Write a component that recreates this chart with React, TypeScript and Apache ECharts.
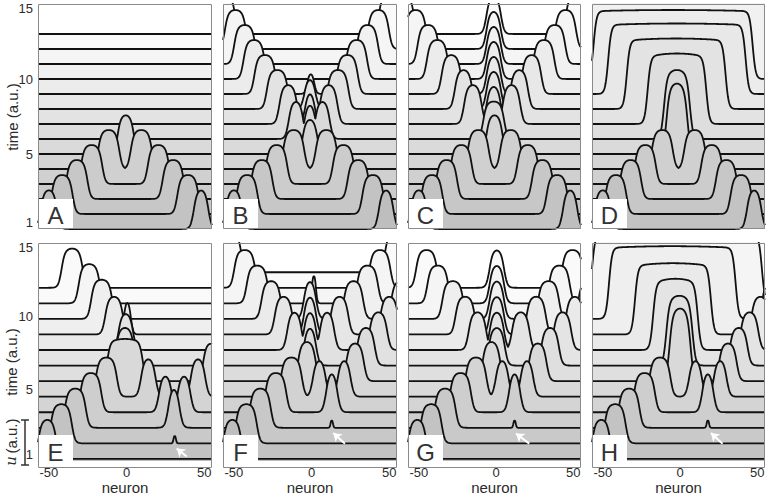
import React, { useEffect, useRef } from "react";
import * as echarts from "echarts";

// ---------- data ----------
const NEURON_MIN = -57;
const NEURON_MAX = 55;
const X_TICKS = [-50, 0, 50];
const Y_TICK_VALUES = [0.45, 4.95, 9.95, 14.7];
const Y_TICK_LABELS = ["1", "5", "10", "15"];

// baselines (time offset) of each trace, front (0) to back
const TOP_BASELINES = [0, 1, 2, 3, 4, 5, 6, 7, 8, 9, 10, 11, 12, 13];
const BOTTOM_BASELINES = [0.15, 1.22, 2.29, 3.36, 4.43, 5.5, 6.57, 7.64, 8.71, 9.78, 10.85, 11.92, 12.99];

// pulses: [trace index, centre (neuron), half width, height]
type Pulse = [number, number, number, number];

const WAVE_TOP: Pulse[] = [
  [0, -50, 5.5, 2.6], [0, 48, 5, 2.6],
  [1, -41.5, 7, 2.6], [1, 39.5, 7, 2.6],
  [2, -32, 7, 2.6], [2, 30, 7, 2.6],
  [3, -22.5, 7, 2.6], [3, 20.5, 7, 2.6],
  [4, -11.5, 7, 2.6], [4, 9.5, 7, 2.6],
];

const PULSES_A: Pulse[] = [...WAVE_TOP, [5, -0.5, 5.5, 2.6]];

const PULSES_B: Pulse[] = [
  ...WAVE_TOP,
  [5, -1, 5, 2.3],
  [6, -1, 4, 2.3], [6, -10, 5, 2.5], [6, 7, 5, 2.5],
  [7, -1, 3.5, 2.1], [7, -15, 6, 2.6], [7, 11, 6, 2.6],
  [8, -1, 4, 2.0], [8, -22, 7, 2.6], [8, 17, 7, 2.6],
  [9, -0.5, 2.5, 1.4], [9, -30, 7, 2.6], [9, 23, 7, 2.6],
  [10, -37, 7, 2.6], [10, 29, 7, 2.6],
  [11, -43, 7, 2.6], [11, 36, 7, 2.6],
  [12, -49, 7, 2.6], [12, 43, 7, 2.6],
  [13, -56, 7, 2.6], [13, 50, 7, 2.6],
];

const PULSES_C: Pulse[] = [
  ...WAVE_TOP,
  [5, -1, 5.5, 2.6],
  [6, -1.5, 7, 2.5],
  [7, -1.5, 5, 2.5], [7, -15, 6, 2.6], [7, 10, 6, 2.6],
  [8, -1.5, 5, 2.5], [8, -21, 6, 2.6], [8, 15, 6, 2.6],
  [9, -1.5, 5, 2.5], [9, -29, 6.5, 2.6], [9, 23, 6.5, 2.6],
  [10, -1.5, 5, 2.5], [10, -38, 7, 2.6], [10, 31, 7, 2.6],
  [11, -1.5, 5, 2.5], [11, -44, 7, 2.6], [11, 38, 7, 2.6],
  [12, -1.5, 5, 2.5], [12, -52, 7, 2.6], [12, 45, 7, 2.6],
  [13, -1.5, 5, 2.5], [13, -60, 7, 2.6], [13, 52, 7, 2.6],
];

const PULSES_D: Pulse[] = [
  ...WAVE_TOP,
  [5, -2, 7, 4.7], [6, -2, 8.5, 4.6], [7, -2, 19, 4.7], [8, -2.5, 32, 4.7],
  [9, -2, 44.5, 4.7], [10, -4.5, 51.5, 4.6], [11, -1, 80, 4.6], [12, -1, 80, 4.6], [13, -1, 80, 4.6],
];

const WAVE_BOTTOM: Pulse[] = [
  [0, -51, 6, 2.7], [1, -42, 7, 2.7], [2, -33, 7, 2.7], [3, -23, 7, 2.7], [4, -13, 7, 2.7],
];

const PULSES_E: Pulse[] = [
  ...WAVE_BOTTOM,
  [1, 31, 0.9, 0.55], [2, 30.5, 4, 2.7], [3, 25, 4.5, 2.5], [3, 37, 4.5, 2.5], [4, 14, 5, 2.6], [4, 46, 5, 2.6],
  [5, -1, 11.5, 2.9], [5, 54, 5, 2.6],
  [6, -1, 6, 2.6], [7, -0.5, 5, 2.5], [8, -8, 6, 2.6], [8, 0.5, 2.5, 2.3],
  [9, -16, 7, 2.7], [10, -24, 7, 2.7], [11, -35, 7, 2.7],
];

const PULSES_F: Pulse[] = [
  ...WAVE_BOTTOM,
  [2, 13, 0.9, 0.55], [3, 13, 4, 2.7], [4, 5, 4.5, 2.5], [4, 21, 4.5, 2.5],
  [5, -3, 6, 2.7], [5, 28, 6, 2.6],
  [6, -1, 4.3, 2.6], [6, 35, 6, 2.6],
  [7, -1, 4.3, 2.6], [7, -11, 5, 2.6], [7, 10, 5, 2.6], [7, 43, 6, 2.6],
  [8, -1, 4.3, 2.6], [8, -18, 6, 2.6], [8, 18, 6, 2.6], [8, 50, 6, 2.6],
  [9, -1, 4.3, 2.6], [9, -26, 6.5, 2.6], [9, 27, 6.5, 2.6], [9, 57, 6, 2.6],
  [10, 1.5, 1.5, 2.0], [10, -35, 7, 2.6], [10, 36, 7, 2.6],
  [11, -43, 7, 2.6], [11, 44, 7, 2.6],
  [12, -52, 7, 2.7], [12, 54, 7, 2.7],
];

const PULSES_G: Pulse[] = [
  ...WAVE_BOTTOM,
  [2, 12, 0.9, 0.55], [3, 12, 4, 2.7], [4, 4, 4.5, 2.5], [4, 20, 4.5, 2.5],
  [5, -3, 6, 2.7], [5, 27, 6, 2.6],
  [6, 0.5, 5.5, 2.6], [6, 35, 6, 2.6],
  [7, 0.5, 5, 2.6], [7, -12, 6, 2.6], [7, 16, 6, 2.6], [7, 43, 6, 2.6],
  [8, 0.5, 5, 2.6], [8, -20, 6.5, 2.6], [8, 26, 6.5, 2.6], [8, 51, 6, 2.6],
  [9, 0.5, 5, 2.6], [9, -28, 7, 2.6], [9, 34, 7, 2.6], [9, 59, 6, 2.6],
  [10, 0.5, 5, 2.6], [10, -37.7, 7, 2.6], [10, 41, 7, 2.6],
  [11, 0.5, 5, 2.6], [11, -45, 7, 2.6], [11, 49.5, 7, 2.6],
];

const PULSES_H: Pulse[] = [
  ...WAVE_BOTTOM,
  [2, 18, 0.9, 0.55], [3, 18, 4, 2.7], [4, 10, 4.5, 2.5], [4, 26, 4.5, 2.5],
  [5, 0, 7, 5.0], [5, 31, 6, 2.6],
  [6, -0.4, 8.6, 4.8], [6, 38, 6, 2.6],
  [7, -3, 14.5, 4.9], [7, 45, 6, 2.6],
  [8, -4.6, 24.6, 4.9], [8, 52, 6, 2.6],
  [9, -5, 41, 5.0], [9, 59, 6, 2.6],
  [10, -2, 55, 4.8], [11, 0, 80, 4.8],
];

// white arrows pointing at the second stimulus: [tail, head] in (neuron, time)
const ARROW_E = [[38.7, 0.31], [32.3, 0.87]];
const ARROW_F = [[21.5, 1.2], [14, 1.93]];
const ARROW_G = [[21.5, 1.2], [12.9, 1.9]];
const ARROW_H = [[27.5, 1.2], [20, 1.93]];

// ---------- layout / style ----------
const COL_LEFT = [38, 223, 408, 592];
const COL_WIDTH = [174, 174, 173, 173];
const ROW_TOP = [4, 243];
const PANEL_H = 225;
const FONT = "'Liberation Sans', Arial, Helvetica, sans-serif";
const TEXT = "#2b2b2b";

const PANELS = [
  { letter: "A", col: 0, row: 0, baselines: TOP_BASELINES, pulses: PULSES_A, arrow: null },
  { letter: "B", col: 1, row: 0, baselines: TOP_BASELINES, pulses: PULSES_B, arrow: null },
  { letter: "C", col: 2, row: 0, baselines: TOP_BASELINES, pulses: PULSES_C, arrow: null },
  { letter: "D", col: 3, row: 0, baselines: TOP_BASELINES, pulses: PULSES_D, arrow: null },
  { letter: "E", col: 0, row: 1, baselines: BOTTOM_BASELINES.slice(0, 12), pulses: PULSES_E, arrow: ARROW_E },
  { letter: "F", col: 1, row: 1, baselines: BOTTOM_BASELINES.slice(0, 13), pulses: PULSES_F, arrow: ARROW_F },
  { letter: "G", col: 2, row: 1, baselines: BOTTOM_BASELINES.slice(0, 12), pulses: PULSES_G, arrow: ARROW_G },
  { letter: "H", col: 3, row: 1, baselines: BOTTOM_BASELINES.slice(0, 12), pulses: PULSES_H, arrow: ARROW_H },
];

const STEPS = 448;

function bump(x: number, c: number, w: number, h: number) {
  const s = Math.min(1.0, w / 3.5);
  const rise = 1 / (1 + Math.exp(-(x - (c - w)) / s));
  const fall = 1 / (1 + Math.exp(-(c + w - x) / s));
  const d = (x - c) / w;
  const k = 0.15 * Math.min(1, 6 / w);
  const dome = 1 - k * Math.min(1, d * d);
  return h * rise * fall * dome;
}

function traceData(base: number, pulses: Pulse[], k: number) {
  const pts: number[][] = [];
  const own = pulses.filter((p) => p[0] === k);
  for (let i = 0; i <= STEPS; i++) {
    const x = NEURON_MIN + (i * (NEURON_MAX - NEURON_MIN)) / STEPS;
    let u = 0;
    for (const [, c, w, h] of own) u = Math.max(u, bump(x, c, w, h));
    pts.push([x, base + u]);
  }
  return pts;
}

function grayFor(k: number, n: number) {
  const g = Math.round(190 + (60 * k) / (n - 1));
  return `rgb(${g},${g},${g})`;
}

export default function App() {
  const ref = useRef<HTMLDivElement>(null);
  useEffect(() => {
    document.body.style.margin = "0";
    const chart = echarts.init(ref.current!, null, { renderer: "svg" });

    const grid = PANELS.map((p) => ({
      left: COL_LEFT[p.col],
      top: ROW_TOP[p.row],
      width: COL_WIDTH[p.col],
      height: PANEL_H,
    }));

    const xAxis = PANELS.map((p, i) => ({
      type: "value",
      gridIndex: i,
      min: NEURON_MIN,
      max: NEURON_MAX,
      axisLine: { show: false },
      axisTick: { show: false },
      splitLine: { show: false },
      axisLabel:
        p.row === 1
          ? { show: true, customValues: X_TICKS, fontSize: 13, color: TEXT, margin: 5, fontFamily: FONT }
          : { show: false },
      name: p.row === 1 ? "neuron" : "",
      nameLocation: "middle",
      nameGap: 13,
      nameTextStyle: { fontSize: 15, color: TEXT, fontFamily: FONT },
    }));

    const yAxis = PANELS.map((p, i) => ({
      type: "value",
      gridIndex: i,
      min: 0,
      max: 15,
      axisLine: { show: false },
      axisTick: { show: false },
      splitLine: { show: false },
      axisLabel:
        p.col === 0
          ? {
              show: true,
              customValues: Y_TICK_VALUES,
              formatter: (v: number) => Y_TICK_LABELS[Y_TICK_VALUES.indexOf(v)] ?? "",
              fontSize: 13,
              color: TEXT,
              margin: 5,
              fontFamily: FONT,
            }
          : { show: false },
    }));

    const series: any[] = [];
    PANELS.forEach((p, i) => {
      const n = p.baselines.length;
      for (let k = n - 1; k >= 0; k--) {
        const s: any = {
          type: "line",
          xAxisIndex: i,
          yAxisIndex: i,
          data: traceData(p.baselines[k], p.pulses, k),
          showSymbol: false,
          symbol: "none",
          silent: true,
          lineStyle: { color: "#111", width: 1.8, join: "round" },
          areaStyle: { color: grayFor(k, n), opacity: 1, origin: "start" },
          z: 10 + (n - 1 - k), // front traces above back ones (fill + line together)
        };
        if (k === 0 && p.arrow) {
          s.markLine = {
            silent: true,
            z: 60,
            symbol: ["none", "arrow"],
            symbolSize: 8,
            label: { show: false },
            lineStyle: { color: "#fff", width: 2, type: "solid" },
            data: [[{ coord: p.arrow[0] }, { coord: p.arrow[1] }]],
          };
        }
        series.push(s);
      }
    });

    const graphic: any[] = [];
    PANELS.forEach((p) => {
      const L = COL_LEFT[p.col];
      const T = ROW_TOP[p.row];
      const W = COL_WIDTH[p.col];
      const boxH = p.row === 0 ? 30 : 33;
      graphic.push({
        type: "rect",
        z: 100,
        shape: { x: L, y: T + PANEL_H - boxH, width: 35, height: boxH },
        style: { fill: "#fff" },
      });
      graphic.push({
        type: "text",
        z: 101,
        x: L + 17.5,
        y: T + PANEL_H - boxH / 2 + 1,
        style: { text: p.letter, fontSize: 24, fontFamily: FONT, fill: "#333", align: "center", verticalAlign: "middle" },
      });
      graphic.push({
        type: "rect",
        z: 102,
        shape: { x: L + 0.5, y: T + 0.5, width: W - 1, height: PANEL_H - 1 },
        style: { fill: "none", stroke: "#8a8a8a", lineWidth: 1 },
      });
    });
    const titleStyle = { fontSize: 15, fontFamily: FONT, fill: TEXT, align: "center", verticalAlign: "middle" };
    graphic.push({ type: "text", z: 101, x: 12, y: 117, rotation: Math.PI / 2, style: { ...titleStyle, text: "time (a.u.)" } });
    graphic.push({ type: "text", z: 101, x: 11, y: 362, rotation: Math.PI / 2, style: { ...titleStyle, text: "time (a.u.)" } });
    graphic.push({
      type: "text",
      z: 101,
      x: 11,
      y: 461,
      rotation: Math.PI / 2,
      style: { ...titleStyle, text: "u", fontStyle: "italic", fontFamily: "'DejaVu Serif', serif" },
    });
    graphic.push({ type: "text", z: 101, x: 11, y: 436, rotation: Math.PI / 2, style: { ...titleStyle, text: "(a.u.)" } });
    graphic.push({ type: "line", z: 101, shape: { x1: 25, y1: 420, x2: 25, y2: 465 }, style: { stroke: "#333", lineWidth: 1.5 } });
    graphic.push({ type: "line", z: 101, shape: { x1: 21, y1: 420, x2: 29, y2: 420 }, style: { stroke: "#333", lineWidth: 1.5 } });
    graphic.push({ type: "line", z: 101, shape: { x1: 21, y1: 465, x2: 29, y2: 465 }, style: { stroke: "#333", lineWidth: 1.5 } });

    chart.setOption({ animation: false, backgroundColor: "#fff", grid, xAxis, yAxis, series, graphic });
    return () => chart.dispose();
  }, []);

  return <div ref={ref} style={{ position: "absolute", left: 0, top: 0, width: 769, height: 496 }} />;
}
